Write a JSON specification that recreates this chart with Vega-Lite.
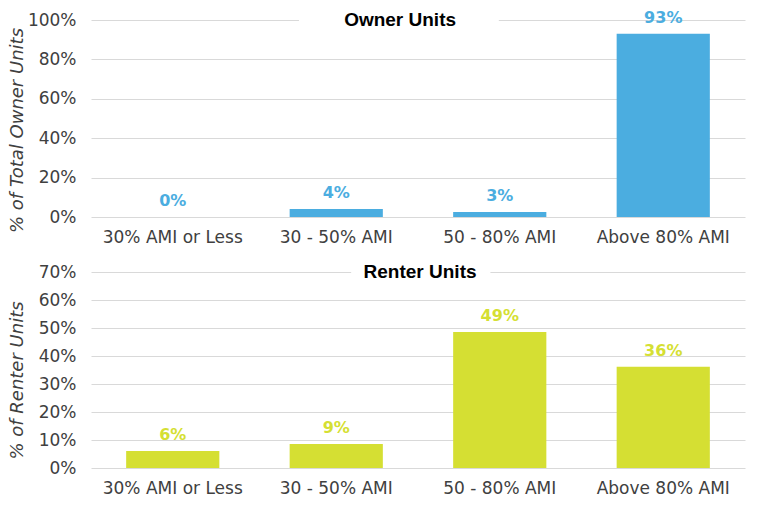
{
  "$schema": "https://vega.github.io/schema/vega-lite/v6.json",
  "description": "Owner and renter units by AMI band.",
  "padding": {"left": 7, "top": 9, "right": 12, "bottom": 5},
  "data": {
    "values": [
      {"tenure": "Owner", "ami": "30% AMI or Less", "share": 0.0},
      {"tenure": "Owner", "ami": "30 - 50% AMI", "share": 0.041},
      {"tenure": "Owner", "ami": "50 - 80% AMI", "share": 0.026},
      {"tenure": "Owner", "ami": "Above 80% AMI", "share": 0.93},
      {"tenure": "Renter", "ami": "30% AMI or Less", "share": 0.061},
      {"tenure": "Renter", "ami": "30 - 50% AMI", "share": 0.086},
      {"tenure": "Renter", "ami": "50 - 80% AMI", "share": 0.486},
      {"tenure": "Renter", "ami": "Above 80% AMI", "share": 0.362}
    ]
  },
  "spacing": 18,
  "vconcat": [
    {
      "width": 654,
      "height": 197,
      "transform": [{"filter": "datum.tenure == 'Owner'"}],
      "encoding": {
        "x": {
          "field": "ami",
          "type": "nominal",
          "sort": null,
          "title": null,
          "scale": {
            "domain": ["30% AMI or Less", "30 - 50% AMI", "50 - 80% AMI", "Above 80% AMI"],
            "paddingInner": 0.43,
            "paddingOuter": 0.215
          },
          "axis": {"labelAngle": 0, "labelPadding": 12, "domain": false, "ticks": false, "grid": false}
        },
        "y": {
          "field": "share",
          "type": "quantitative",
          "scale": {"domain": [0, 1], "nice": false},
          "axis": {
            "format": ".0%",
            "values": [0, 0.2, 0.4, 0.6, 0.8, 1],
            "grid": true,
            "labelOverlap": false,
            "title": "% of Total Owner Units",
            "titleBaseline": "middle",
            "titleX": -74,
            "titleY": 110
          }
        }
      },
      "layer": [
        {
          "mark": {"type": "bar", "color": "#4BADE0"}
        },
        {
          "data": {"values": [{"lo": 0.97, "hi": 1.03, "mid": 1}]},
          "mark": {"type": "rect", "color": "white"},
          "encoding": {
            "x": {"datum": "30 - 50% AMI", "type": "nominal", "bandPosition": 0.1},
            "x2": {"datum": "50 - 80% AMI", "bandPosition": 0.49},
            "y": {"field": "lo", "type": "quantitative"},
            "y2": {"field": "hi"}
          }
        },
        {
          "data": {"values": [{"lo": 0.97, "hi": 1.03, "mid": 1}]},
          "mark": {"type": "text", "font": "Liberation Sans", "fontWeight": "bold", "fontSize": 19, "color": "#000000", "baseline": "middle"},
          "encoding": {
            "x": {"datum": "30 - 50% AMI", "type": "nominal", "bandPosition": 1.185},
            "y": {"field": "mid", "type": "quantitative"},
            "text": {"value": "Owner Units"}
          }
        },
        {
          "mark": {"type": "text", "dy": -11, "baseline": "alphabetic", "fontWeight": "bold", "fontSize": 16, "color": "#4BADE0"},
          "encoding": {
            "text": {"field": "share", "type": "quantitative", "format": ".0%"}
          }
        }
      ]
    },
    {
      "width": 654,
      "height": 196,
      "transform": [{"filter": "datum.tenure == 'Renter'"}],
      "encoding": {
        "x": {
          "field": "ami",
          "type": "nominal",
          "sort": null,
          "title": null,
          "scale": {
            "domain": ["30% AMI or Less", "30 - 50% AMI", "50 - 80% AMI", "Above 80% AMI"],
            "paddingInner": 0.43,
            "paddingOuter": 0.215
          },
          "axis": {"labelAngle": 0, "labelPadding": 12, "domain": false, "ticks": false, "grid": false}
        },
        "y": {
          "field": "share",
          "type": "quantitative",
          "scale": {"domain": [0, 0.7], "nice": false},
          "axis": {
            "format": ".0%",
            "values": [0, 0.1, 0.2, 0.3, 0.4, 0.5, 0.6, 0.7],
            "grid": true,
            "labelOverlap": false,
            "title": "% of Renter Units",
            "titleBaseline": "middle",
            "titleX": -74,
            "titleY": 108
          }
        }
      },
      "layer": [
        {
          "mark": {"type": "bar", "color": "#D5DF33"}
        },
        {
          "data": {"values": [{"lo": 0.68, "hi": 0.72, "mid": 0.7}]},
          "mark": {"type": "rect", "color": "white"},
          "encoding": {
            "x": {"datum": "30 - 50% AMI", "type": "nominal", "bandPosition": 0.66},
            "x2": {"datum": "50 - 80% AMI", "bandPosition": 0.4},
            "y": {"field": "lo", "type": "quantitative"},
            "y2": {"field": "hi"}
          }
        },
        {
          "data": {"values": [{"lo": 0.68, "hi": 0.72, "mid": 0.7}]},
          "mark": {"type": "text", "font": "Liberation Sans", "fontWeight": "bold", "fontSize": 19, "color": "#000000", "baseline": "middle"},
          "encoding": {
            "x": {"datum": "50 - 80% AMI", "type": "nominal", "bandPosition": -0.355},
            "y": {"field": "mid", "type": "quantitative"},
            "text": {"value": "Renter Units"}
          }
        },
        {
          "mark": {"type": "text", "dy": -11, "baseline": "alphabetic", "fontWeight": "bold", "fontSize": 16, "color": "#D5DF33"},
          "encoding": {
            "text": {"field": "share", "type": "quantitative", "format": ".0%"}
          }
        }
      ]
    }
  ],
  "config": {
    "view": {"stroke": null},
    "font": "DejaVu Sans",
    "text": {"font": "DejaVu Sans"},
    "axis": {
      "labelFont": "DejaVu Sans",
      "labelFontSize": 17,
      "labelColor": "#404040",
      "titleFont": "DejaVu Sans",
      "titleFontSize": 18,
      "titleFontWeight": "normal",
      "titleFontStyle": "italic",
      "titleColor": "#404040",
      "gridColor": "#D9D9D9",
      "gridWidth": 1.2
    },
    "axisY": {"domain": false, "ticks": false, "labelPadding": 15, "titlePadding": 0}
  }
}
